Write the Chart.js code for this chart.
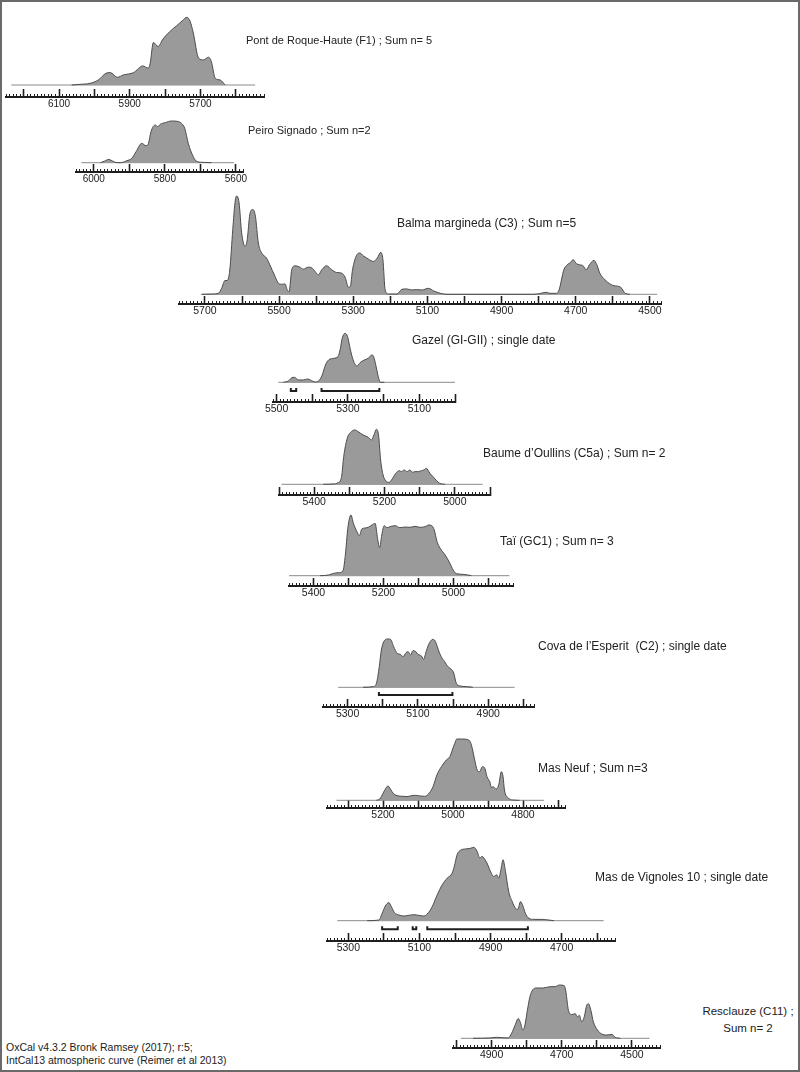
<!DOCTYPE html>
<html><head><meta charset="utf-8">
<script src="https://cdn.jsdelivr.net/npm/chart.js@4.4.1/dist/chart.umd.min.js"></script>
<style>
html,body{margin:0;padding:0;background:#fff;}
#page{position:relative;width:800px;height:1072px;overflow:hidden;font-family:"Liberation Sans",Arial,sans-serif;color:#222;}
#frame{position:absolute;left:0;top:0;width:796px;height:1068px;border:2px solid #6a6a6a;pointer-events:none;z-index:5}
.t{position:absolute;font-size:12px;line-height:14px;white-space:pre;}
canvas{position:absolute;}
</style></head><body><div id="page"><div id="frame"></div></div>
<script>
// ---------- DATA (years cal BC, relative probability) ----------
const PONT_YEARS = [6064,6040,6012,5989,5967,5955,5935,5918,5889,5863,5847,5842,5833,5820,5806,5786,5767,5750,5738,5729,5720,5705,5691,5677,5669,5658,5644,5630];
const PONT_PROB  = [0,0.01,0.025,0.074,0.173,0.183,0.114,0.148,0.183,0.282,0.248,0.322,0.629,0.569,0.678,0.792,0.876,0.955,1.0,0.94,0.767,0.396,0.371,0.411,0.347,0.099,0.074,0];
const PONT_BASE  = [6235, 5545];
const PONT_LABELS = [6100, 5900, 5700];

const PEIRO_YEARS = [5981,5969,5958,5949,5939,5925,5907,5893,5881,5865,5853,5846,5839,5827,5820,5813,5799,5781,5765,5753,5744,5734,5720,5709,5692,5669];
const PEIRO_PROB  = [0,0.04,0.08,0.048,0.008,0,0.048,0.104,0.264,0.464,0.408,0.464,0.744,0.904,0.864,0.92,0.96,1.0,0.992,0.944,0.824,0.464,0.144,0.024,0.008,0];
const PEIRO_BASE  = [6035, 5605];
const PEIRO_LABELS = [6000, 5800, 5600];

const BALMA_YEARS = [5709,5678,5664,5655,5646,5640,5633,5625,5619,5615,5608,5601,5592,5586,5579,5571,5564,5556,5547,5534,5525,5511,5502,5493,5484,5478,5473,5466,5457,5444,5435,5421,5412,5403,5394,5385,5372,5358,5345,5331,5322,5313,5308,5302,5290,5282,5273,5259,5246,5235,5226,5220,5214,5205,5182,5169,5156,5142,5129,5115,5097,5083,5065,5047,4815,4797,4780,4770,4752,4745,4732,4723,4714,4707,4698,4689,4680,4672,4663,4651,4643,4635,4621,4608,4594,4581,4573,4567,4554];
const BALMA_PROB  = [0,0.003,0.01,0.061,0.14,0.14,0.249,0.659,0.932,1.0,0.932,0.625,0.488,0.556,0.812,0.863,0.795,0.522,0.42,0.369,0.30,0.181,0.113,0.102,0.106,0.044,0.027,0.249,0.29,0.276,0.256,0.276,0.27,0.232,0.198,0.249,0.29,0.249,0.222,0.215,0.174,0.072,0.078,0.249,0.403,0.42,0.392,0.358,0.334,0.369,0.427,0.352,0.044,0.003,0.003,0.051,0.055,0.044,0.048,0.044,0.061,0.034,0.01,0,0,0.007,0.02,0.01,0.01,0.044,0.249,0.3,0.324,0.352,0.311,0.3,0.29,0.249,0.3,0.345,0.3,0.215,0.147,0.106,0.085,0.078,0.044,0.01,0];
const BALMA_BASE  = [5710, 4480];
const BALMA_LABELS = [5700, 5500, 5300, 5100, 4900, 4700, 4500];

const GAZEL_YEARS = [5481,5467,5457,5450,5439,5425,5413,5406,5391,5382,5372,5363,5354,5339,5328,5322,5316,5308,5301,5295,5287,5275,5266,5254,5243,5233,5228,5221,5215,5209,5198];
const GAZEL_PROB  = [0,0.027,0.095,0.102,0.048,0.048,0.068,0.048,0.007,0.027,0.15,0.354,0.456,0.49,0.524,0.66,0.898,1.0,0.932,0.728,0.49,0.333,0.401,0.456,0.49,0.558,0.524,0.32,0.116,0,0];
const GAZEL_BASE  = [5495, 5000];
const GAZEL_LABELS = [5500, 5300, 5100];
const GAZEL_RANGES = [[5460, 5445], [5374, 5212]];

const BAUME_YEARS = [5374,5346,5332,5322,5316,5306,5294,5284,5275,5261,5246,5237,5230,5223,5217,5211,5204,5196,5187,5180,5168,5158,5152,5144,5136,5128,5120,5114,5104,5095,5088,5081,5071,5062,5052,5043,5028];
const BAUME_PROB  = [0,0.006,0.03,0.139,0.503,0.836,0.958,0.988,0.958,0.897,0.855,0.806,0.897,1.0,0.897,0.442,0.17,0.061,0.036,0.079,0.2,0.248,0.23,0.261,0.23,0.261,0.218,0.23,0.23,0.248,0.261,0.291,0.2,0.139,0.067,0.018,0];
const BAUME_BASE  = [5493, 4921];
const BAUME_LABELS = [5400, 5200, 5000];

const TAI_YEARS = [5381,5357,5343,5329,5316,5309,5302,5293,5286,5276,5269,5262,5247,5233,5224,5217,5211,5205,5198,5190,5181,5167,5153,5138,5124,5110,5095,5081,5071,5062,5055,5047,5038,5024,5010,5001,4991,4972,4949];
const TAI_PROB  = [0,0.011,0.038,0.049,0.077,0.341,0.78,1.0,0.863,0.725,0.659,0.769,0.791,0.835,0.863,0.615,0.462,0.67,0.824,0.791,0.808,0.824,0.791,0.802,0.797,0.813,0.797,0.808,0.835,0.824,0.753,0.56,0.451,0.341,0.203,0.093,0.033,0.022,0];
const TAI_BASE  = [5470, 4840];
const TAI_LABELS = [5400, 5200, 5000];

const COVA_YEARS = [5256,5227,5218,5210,5204,5194,5185,5178,5169,5159,5150,5142,5134,5128,5121,5114,5106,5100,5090,5084,5076,5067,5057,5050,5042,5034,5024,5015,5005,4998,4991,4981,4962,4944];
const COVA_PROB  = [0,0.014,0.083,0.428,0.772,0.979,1.0,0.993,0.841,0.703,0.683,0.634,0.717,0.738,0.669,0.759,0.738,0.683,0.648,0.579,0.759,0.924,0.993,0.945,0.772,0.634,0.531,0.428,0.372,0.29,0.083,0.028,0.014,0];
const COVA_BASE  = [5327, 4825];
const COVA_LABELS = [5300, 5100, 4900];
const COVA_RANGES = [[5211, 5002]];

const MASNEUF_YEARS = [5219,5209,5200,5192,5186,5179,5171,5160,5143,5131,5119,5107,5095,5081,5071,5057,5046,5033,5019,5009,5002,4995,4989,4976,4962,4950,4945,4938,4931,4924,4916,4909,4903,4895,4890,4886,4876,4869,4862,4857,4853,4843,4829,4810];
const MASNEUF_PROB  = [0,0.022,0.114,0.196,0.234,0.185,0.114,0.076,0.065,0.06,0.076,0.082,0.071,0.065,0.098,0.223,0.413,0.549,0.658,0.712,0.821,0.929,1.0,1.0,0.995,0.946,0.848,0.658,0.495,0.467,0.549,0.522,0.386,0.304,0.207,0.223,0.185,0.261,0.467,0.386,0.168,0.043,0.005,0];
const MASNEUF_BASE  = [5333, 4740];
const MASNEUF_LABELS = [5200, 5000, 4800];

const VIGN_YEARS = [5247,5214,5205,5196,5186,5180,5170,5158,5144,5130,5116,5102,5088,5078,5064,5050,5036,5022,5008,5002,4994,4985,4971,4957,4947,4938,4930,4924,4917,4910,4898,4891,4883,4877,4870,4865,4858,4849,4839,4830,4823,4816,4809,4802,4792,4778,4755,4736,4722];
const VIGN_PROB  = [0,0.009,0.1,0.2,0.247,0.2,0.11,0.078,0.064,0.073,0.082,0.073,0.064,0.091,0.192,0.352,0.489,0.58,0.648,0.74,0.9,0.959,0.977,0.986,1.0,0.945,0.854,0.877,0.84,0.785,0.648,0.603,0.626,0.58,0.717,0.831,0.671,0.397,0.26,0.169,0.155,0.26,0.201,0.1,0.032,0.018,0.018,0.009,0];
const VIGN_BASE  = [5331, 4582];
const VIGN_LABELS = [5300, 5100, 4900, 4700];
const VIGN_RANGES = [[5205, 5161], [5119, 5109], [5078, 4795]];

const RESC_YEARS = [4953,4905,4886,4871,4853,4843,4833,4824,4817,4811,4805,4798,4791,4783,4771,4753,4733,4719,4707,4693,4688,4681,4671,4662,4655,4650,4643,4636,4629,4624,4617,4610,4598,4586,4571,4557,4548,4533];
const RESC_PROB  = [0,0.006,0.019,0.012,0.006,0.093,0.247,0.37,0.278,0.154,0.247,0.525,0.772,0.907,0.944,0.944,0.969,0.969,1.0,0.988,0.864,0.525,0.444,0.463,0.401,0.432,0.309,0.401,0.617,0.648,0.525,0.309,0.154,0.08,0.062,0.074,0.019,0];
const RESC_BASE  = [4988, 4450];
const RESC_LABELS = [4900, 4700, 4500];

const TITLES = [
  "Pont de Roque-Haute (F1) ; Sum n= 5",
  "Peiro Signado ; Sum n=2",
  "Balma margineda (C3) ; Sum n=5",
  "Gazel (GI-GII) ; single date",
  "Baume d\u2019Oullins (C5a) ; Sum n= 2",
  "Ta\u00ef (GC1) ; Sum n= 3",
  "Cova de l\u2019Esperit  (C2) ; single date",
  "Mas Neuf ; Sum n=3",
  "Mas de Vignoles 10 ; single date",
  "Resclauze (C11) ;\nSum n= 2"
];
const FOOTER = ["OxCal v4.3.2 Bronk Ramsey (2017); r:5;", "IntCal13 atmospheric curve (Reimer et al 2013)"];

// ---------- LAYOUT / STYLE ----------
const FONT = '"Liberation Sans", Arial, sans-serif';
const FILL = '#9a9a9a', EDGE = '#4c4c4c', BASEC = '#8a8a8a', AXIS = '#1e1e1e';
const XH = 24, HEAD = 6, PADX = 24;
const LAYOUT = [
  {left:6,   width:258, yearMax:6250, yearMin:5520, peakY:17.3,  baseY:85,     axisY:97,   tx:246, ty:40,  tf:11, lf:10},
  {left:76,  width:167, yearMax:6050, yearMin:5580, peakY:121,   baseY:162.7,  axisY:172,  tx:248, ty:130, tf:11, lf:10},
  {left:179, width:482, yearMax:5770, yearMin:4470, peakY:196,   baseY:294.3,  axisY:304,  tx:397, ty:223, tf:12, lf:10.5},
  {left:273, width:182, yearMax:5510, yearMin:5000, peakY:333.3, baseY:382.3,  axisY:402,  tx:412, ty:340, tf:12, lf:10.5, bracketY:391},
  {left:279, width:211, yearMax:5500, yearMin:4900, peakY:429.3, baseY:484.3,  axisY:495,  tx:483, ty:453, tf:12, lf:10.5},
  {left:289, width:224, yearMax:5470, yearMin:4830, peakY:515,   baseY:575.7,  axisY:586,  tx:500, ty:541, tf:12, lf:10.5},
  {left:323, width:211, yearMax:5370, yearMin:4770, peakY:639,   baseY:687.3,  axisY:707,  tx:538, ty:646, tf:12, lf:10.5, bracketY:695},
  {left:327, width:238, yearMax:5360, yearMin:4680, peakY:739,   baseY:800.3,  axisY:808,  tx:538, ty:768, tf:12, lf:10.5},
  {left:327, width:288, yearMax:5360, yearMin:4550, peakY:847.3, baseY:920.7,  axisY:941,  tx:595, ty:877, tf:12, lf:10.5, bracketY:929.3},
  {left:453, width:207, yearMax:5010, yearMin:4420, peakY:985,   baseY:1038.3, axisY:1048, tx:748, ty:1011, tf:11.5, lf:10.5, center:true}
];
const SERIES = [
  {years:PONT_YEARS, prob:PONT_PROB, base:PONT_BASE, labels:PONT_LABELS},
  {years:PEIRO_YEARS, prob:PEIRO_PROB, base:PEIRO_BASE, labels:PEIRO_LABELS},
  {years:BALMA_YEARS, prob:BALMA_PROB, base:BALMA_BASE, labels:BALMA_LABELS},
  {years:GAZEL_YEARS, prob:GAZEL_PROB, base:GAZEL_BASE, labels:GAZEL_LABELS, ranges:GAZEL_RANGES},
  {years:BAUME_YEARS, prob:BAUME_PROB, base:BAUME_BASE, labels:BAUME_LABELS},
  {years:TAI_YEARS, prob:TAI_PROB, base:TAI_BASE, labels:TAI_LABELS},
  {years:COVA_YEARS, prob:COVA_PROB, base:COVA_BASE, labels:COVA_LABELS, ranges:COVA_RANGES},
  {years:MASNEUF_YEARS, prob:MASNEUF_PROB, base:MASNEUF_BASE, labels:MASNEUF_LABELS},
  {years:VIGN_YEARS, prob:VIGN_PROB, base:VIGN_BASE, labels:VIGN_LABELS, ranges:VIGN_RANGES},
  {years:RESC_YEARS, prob:RESC_PROB, base:RESC_BASE, labels:RESC_LABELS}
];

const page = document.getElementById('page');

function panel(L, d, idx) {
  const top = Math.round(L.peakY - HEAD);
  const height = L.axisY - top + XH;
  const k = L.baseY - L.peakY;
  const yMin = -(L.axisY - L.baseY) / k;
  const yMax = yMin + (L.axisY - top) / k;
  const cw = L.width + 2 * PADX;
  const cv = document.createElement('canvas');
  cv.width = cw; cv.height = height;
  cv.style.left = (L.left - PADX) + 'px'; cv.style.top = top + 'px';
  cv.style.width = cw + 'px'; cv.style.height = height + 'px';
  page.appendChild(cv);
  const datasets = [
    {data: d.years.map((x, i) => ({x: x, y: d.prob[i]})), fill: 'origin', backgroundColor: FILL,
     borderColor: EDGE, borderWidth: 1, pointRadius: 0, cubicInterpolationMode: 'monotone', order: 1},
    {data: d.base.map(x => ({x: x, y: 0})), borderColor: BASEC, borderWidth: 1, pointRadius: 0, fill: false, order: 2}
  ];
  if (d.ranges) {
    const lvl = -(L.bracketY - L.baseY) / k, h = 3 / k;
    const pts = [];
    d.ranges.forEach(([a, b]) => {
      pts.push({x: a, y: lvl + h}, {x: a, y: lvl}, {x: b, y: lvl}, {x: b, y: lvl + h}, {x: b, y: null});
    });
    datasets.push({data: pts, borderColor: AXIS, borderWidth: 2, pointRadius: 0, fill: false, order: 0,
      borderJoinStyle: 'miter', spanGaps: false});
  }
  const isMajor = c => c.tick && c.tick.value % 100 === 0;
  new Chart(cv, {
    type: 'line',
    data: {datasets},
    options: {
      responsive: false, animation: false, events: [],
      layout: {padding: {left: PADX, right: PADX, top: 0, bottom: 0}},
      plugins: {legend: {display: false}, tooltip: {enabled: false}, title: {display: false}},
      scales: {
        x: {
          type: 'linear', min: L.yearMin, max: L.yearMax, reverse: true,
          border: {display: true, color: AXIS, width: 2},
          grid: {drawOnChartArea: false, drawTicks: true, tickLength: -8, tickColor: AXIS,
            tickWidth: c => isMajor(c) ? 1.6 : 1,
            tickBorderDash: c => isMajor(c) ? [] : [4, 40]},
          ticks: {stepSize: 10, autoSkip: false, maxRotation: 0, minRotation: 0, padding: 9,
            color: '#222', font: {family: FONT, size: L.lf},
            callback: v => d.labels.includes(v) ? String(v) : ''},
          afterFit: s => { s.height = XH; s.paddingLeft = 0; s.paddingRight = 0; }
        },
        y: {type: 'linear', display: false, min: yMin, max: yMax}
      }
    }
  });
  const t = document.createElement('div');
  t.className = 't';
  t.textContent = TITLES[idx];
  t.style.fontSize = L.tf + 'px';
  if (L.center) {
    t.style.textAlign = 'center'; t.style.width = '120px';
    t.style.left = (L.tx - 60) + 'px'; t.style.top = (L.ty - 8) + 'px'; t.style.lineHeight = '17px';
  } else {
    t.style.left = L.tx + 'px'; t.style.top = (L.ty - 7) + 'px';
  }
  page.appendChild(t);
}

LAYOUT.forEach((L, i) => panel(L, SERIES[i], i));

FOOTER.forEach((s, i) => {
  const f = document.createElement('div');
  f.className = 't';
  f.style.fontSize = '10.5px';
  f.style.left = '6px';
  f.style.top = (1040 + i * 13) + 'px';
  f.textContent = s;
  page.appendChild(f);
});
</script></body></html>
